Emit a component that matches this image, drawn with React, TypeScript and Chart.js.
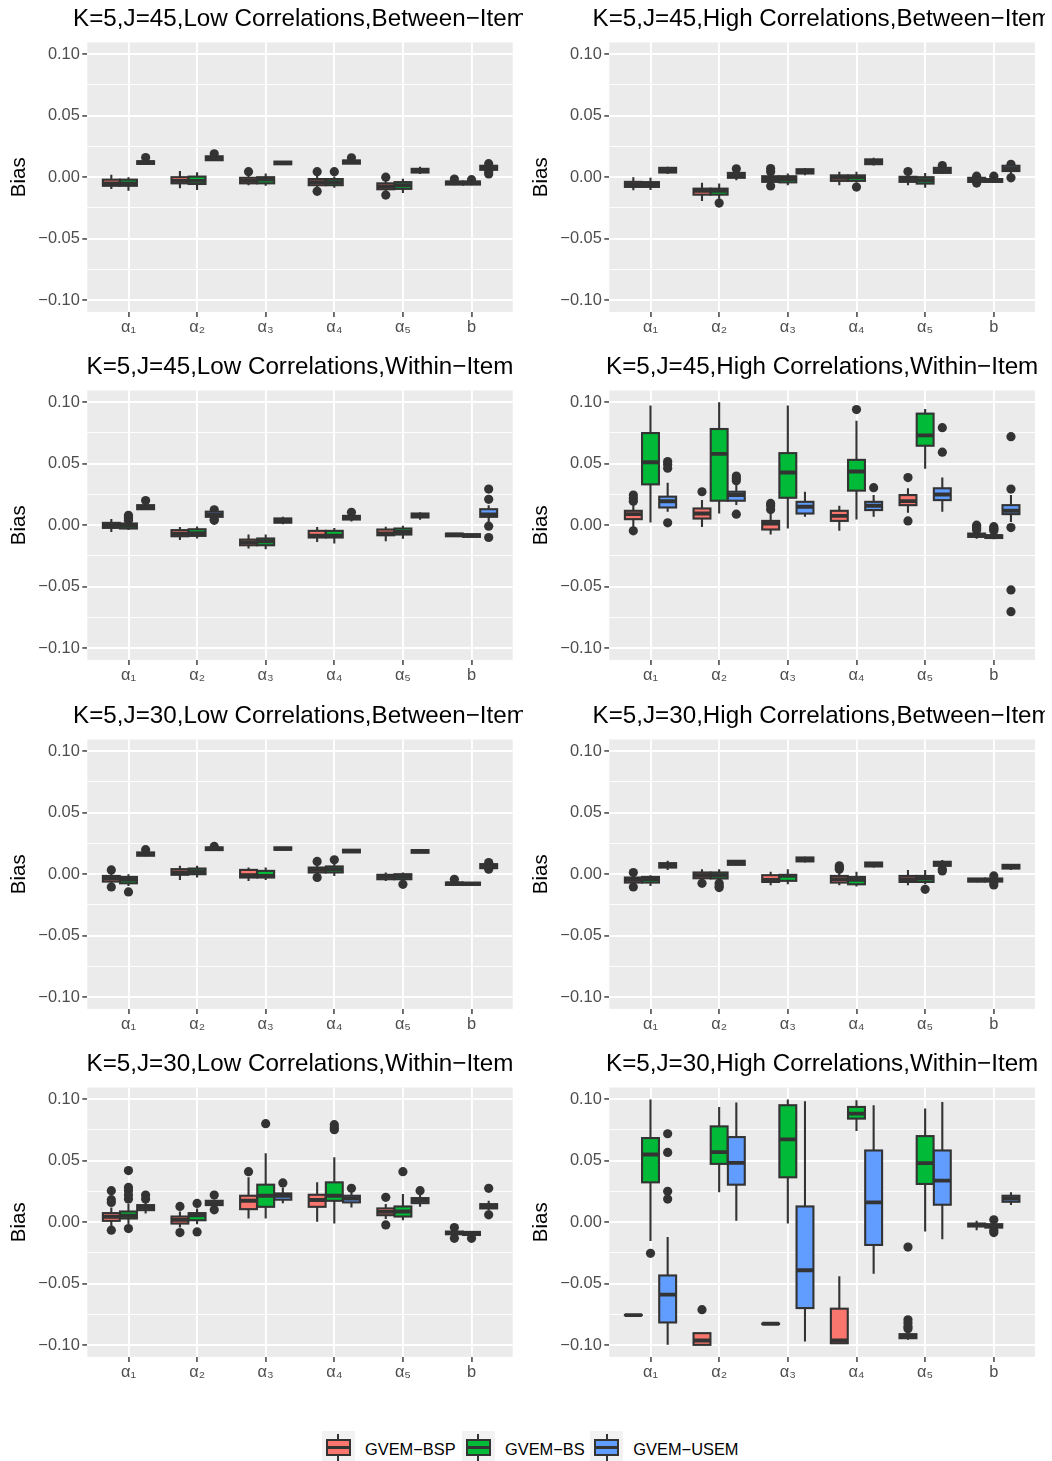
import React, { useEffect, useRef } from "react";
import { Chart, registerables } from "chart.js";

Chart.register(...registerables);

const FONT = "'Liberation Sans', Arial, Helvetica, sans-serif";

const CATEGORIES = ["α₁", "α₂", "α₃", "α₄", "α₅", "b"];
const Y_MAJOR_TICKS = [-0.1, -0.05, 0, 0.05, 0.1];
const Y_MAJOR_LABELS = ["−0.10", "−0.05", "0.00", "0.05", "0.10"];
const Y_MINOR_TICKS = [-0.075, -0.025, 0.025, 0.075];
const Y_MIN = -0.1095;
const Y_MAX = 0.1095;
const METHODS = ["GVEM−BSP", "GVEM−BS", "GVEM−USEM"];
const METHOD_COLORS = ["#F8766D", "#00BA38", "#619CFF"];
const DODGE = [-0.25, 0, 0.25];

const TITLES = [
  "K=5,J=45,Low Correlations,Between−Item",
  "K=5,J=45,High Correlations,Between−Item",
  "K=5,J=45,Low Correlations,Within−Item",
  "K=5,J=45,High Correlations,Within−Item",
  "K=5,J=30,Low Correlations,Between−Item",
  "K=5,J=30,High Correlations,Between−Item",
  "K=5,J=30,Low Correlations,Within−Item",
  "K=5,J=30,High Correlations,Within−Item",
];

// Each row: [lower whisker, Q1, median, Q3, upper whisker] for α1..α5, b
// Panel 1: J=45, Low, Between
const P1_BSP = [[-0.0095, -0.007, -0.005, -0.002, 0.002], [-0.009, -0.005, -0.003, 0.0, 0.005], [-0.0065, -0.005, -0.003, -0.0005, 0.002], [-0.0085, -0.0065, -0.004, -0.0015, 0.001], [-0.012, -0.0098, -0.0075, -0.005, -0.0025], [-0.0065, -0.006, -0.0045, -0.0035, -0.0025]];
const P1_BS = [[-0.011, -0.007, -0.005, -0.002, 0.0], [-0.0105, -0.0055, -0.003, 0.0005, 0.004], [-0.007, -0.005, -0.002, 0.0, 0.003], [-0.0085, -0.0065, -0.004, -0.0015, 0.0005], [-0.0128, -0.0095, -0.0065, -0.004, -0.0013], [-0.0065, -0.006, -0.0045, -0.0035, -0.0025]];
const P1_USEM = [[0.0105, 0.0108, 0.012, 0.013, 0.0145], [0.0135, 0.0138, 0.015, 0.017, 0.0175], [0.0103, 0.0105, 0.0115, 0.0127, 0.013], [0.0108, 0.011, 0.0125, 0.0136, 0.014], [0.0025, 0.0038, 0.0055, 0.0068, 0.0085], [0.004, 0.006, 0.0078, 0.0093, 0.0105]];
const P1_BSP_OUT = [[], [], [0.0045], [0.0045, -0.0115], [0.0, -0.0145], [-0.0015]];
const P1_BS_OUT = [[], [], [], [0.0045], [], [-0.002]];
const P1_USEM_OUT = [[0.016], [0.019], [], [0.0158], [], [0.011, 0.0027, 0.0045]];

// Panel 2: J=45, High, Between
const P2_BSP = [[-0.0107, -0.0079, -0.006, -0.0038, 0.0], [-0.0194, -0.0142, -0.011, -0.0093, -0.0046], [-0.0065, -0.0038, -0.0015, 0.0008, 0.003], [-0.0065, -0.003, -0.0005, 0.0015, 0.0045], [-0.0065, -0.0038, -0.0015, 0.0003, 0.003], [-0.0045, -0.0038, -0.0025, -0.0005, 0.0]];
const P2_BS = [[-0.0105, -0.0079, -0.006, -0.004, -0.0005], [-0.0185, -0.0142, -0.011, -0.0093, -0.0052], [-0.0065, -0.0042, -0.0015, 0.0008, 0.003], [-0.0045, -0.003, 0.0, 0.0015, 0.0045], [-0.0085, -0.0052, -0.0025, 0.0, 0.0035], [-0.0045, -0.0038, -0.003, -0.0015, -0.0005]];
const P2_USEM = [[0.0025, 0.0038, 0.0055, 0.0076, 0.0085], [-0.0025, -0.0005, 0.0015, 0.0035, 0.0055], [0.0015, 0.003, 0.0045, 0.0065, 0.0075], [0.0095, 0.0106, 0.0125, 0.0145, 0.0158], [0.0025, 0.0035, 0.0055, 0.0076, 0.0085], [0.002, 0.005, 0.007, 0.0093, 0.0105]];
const P2_BSP_OUT = [[], [], [0.007, 0.0044, -0.0071], [], [0.0046], [0.0008, -0.0048]];
const P2_BS_OUT = [[], [-0.021], [], [-0.008], [], [0.0008]];
const P2_USEM_OUT = [[], [0.0068], [], [], [0.0095], [0.0105, -0.0005]];

// Panel 3: J=45, Low, Within
const P3_BSP = [[-0.0055, -0.0022, 0.0, 0.0019, 0.005], [-0.012, -0.009, -0.007, -0.004, -0.0014], [-0.019, -0.0163, -0.014, -0.0117, -0.0076], [-0.0136, -0.01, -0.0085, -0.0046, -0.0014], [-0.013, -0.0082, -0.0068, -0.0035, -0.0012], [-0.0092, -0.009, -0.0078, -0.0068, -0.0065]];
const P3_BS = [[-0.004, -0.0027, -0.0005, 0.0014, 0.0035], [-0.0108, -0.0087, -0.0065, -0.0033, -0.001], [-0.0195, -0.0163, -0.013, -0.0108, -0.0076], [-0.0148, -0.01, -0.0085, -0.0046, -0.0022], [-0.011, -0.0076, -0.0055, -0.0027, -0.0005], [-0.0098, -0.0095, -0.0083, -0.0073, -0.007]];
const P3_USEM = [[0.0125, 0.013, 0.0148, 0.0163, 0.0175], [0.0065, 0.0068, 0.0085, 0.011, 0.0118], [0.0008, 0.002, 0.0038, 0.0055, 0.0068], [0.003, 0.0046, 0.006, 0.0076, 0.0085], [0.0045, 0.0063, 0.0078, 0.0095, 0.0105], [0.0027, 0.0068, 0.0088, 0.013, 0.0163]];
const P3_BSP_OUT = [[], [], [], [], [], []];
const P3_BS_OUT = [[0.008, 0.0065, 0.005, 0.004], [], [], [], [], []];
const P3_USEM_OUT = [[0.02], [0.0125, 0.004, 0.0048], [], [0.0105], [], [0.0294, 0.021, -0.0008, -0.01]];

// Panel 4: J=45, High, Within
const P4_BSP = [[-0.0014, 0.0049, 0.009, 0.0117, 0.0169], [-0.0014, 0.0054, 0.0095, 0.0136, 0.0204], [-0.0076, -0.0035, 0.0014, 0.0035, 0.011], [-0.0046, 0.0035, 0.0076, 0.0117, 0.0158], [0.0101, 0.0163, 0.0196, 0.0245, 0.03], [-0.011, -0.0095, -0.0082, -0.0068, -0.0065]];
const P4_BS = [[0.0022, 0.0332, 0.0512, 0.0749, 0.0973], [0.0095, 0.0199, 0.058, 0.0782, 0.1], [-0.0027, 0.0223, 0.0428, 0.0586, 0.0973], [0.0046, 0.0281, 0.0436, 0.0531, 0.085], [0.0458, 0.0646, 0.073, 0.0907, 0.0945], [-0.0115, -0.0104, -0.009, -0.0082, -0.0078]];
const P4_USEM = [[0.0109, 0.0144, 0.0195, 0.0232, 0.0346], [0.0165, 0.0199, 0.0245, 0.0272, 0.0327], [0.0068, 0.0095, 0.015, 0.019, 0.0272], [0.0068, 0.0123, 0.0158, 0.019, 0.0245], [0.0109, 0.0204, 0.025, 0.03, 0.0387], [0.0027, 0.009, 0.0117, 0.0163, 0.0245]];
const P4_BSP_OUT = [[0.0245, 0.022, 0.0195, -0.0046], [0.0272], [0.0177, 0.0158, 0.0128], [], [0.0387, 0.0035], [0.0, -0.0014, -0.0027, -0.004]];
const P4_BS_OUT = [[], [], [], [0.094], [], [-0.0012, -0.0025, -0.0035, -0.0045]];
const P4_USEM_OUT = [[0.0518, 0.0496, 0.0463, 0.0019], [0.04, 0.038, 0.0362, 0.009], [], [0.0305], [0.0793, 0.0594], [0.072, 0.0294, -0.0019, -0.0526, -0.0703]];

// Panel 5: J=30, Low, Between
const P5_BSP = [[-0.0082, -0.006, -0.0035, -0.0014, 0.0014], [-0.0047, -0.0005, 0.0014, 0.0041, 0.0068], [-0.0055, -0.0027, -0.0008, 0.0035, 0.0054], [-0.0008, 0.0014, 0.0035, 0.0054, 0.0082], [-0.0055, -0.0041, -0.0022, -0.0005, 0.0014], [-0.009, -0.0087, -0.0076, -0.0068, -0.006]];
const P5_BS = [[-0.0095, -0.0074, -0.0046, -0.0022, 0.0], [-0.0027, 0.0, 0.0022, 0.0046, 0.0068], [-0.0047, -0.0027, -0.0014, 0.0027, 0.0054], [-0.0014, 0.0014, 0.004, 0.0063, 0.0082], [-0.0055, -0.0041, -0.0019, 0.0, 0.0014], [-0.009, -0.0087, -0.0079, -0.0068, -0.0065]];
const P5_USEM = [[0.0145, 0.015, 0.0163, 0.0177, 0.0185], [0.0192, 0.0196, 0.0207, 0.0218, 0.0222], [0.0196, 0.0199, 0.0207, 0.0218, 0.022], [0.0175, 0.0177, 0.0188, 0.0199, 0.0202], [0.0172, 0.0174, 0.0188, 0.0196, 0.0199], [0.0045, 0.0049, 0.0065, 0.0082, 0.0088]];
const P5_BSP_OUT = [[0.0035, -0.0104], [], [], [0.0104, -0.0027], [], [-0.0041]];
const P5_BS_OUT = [[-0.0144], [], [], [0.0117], [-0.0082], []];
const P5_USEM_OUT = [[0.0199], [0.0226], [], [], [], [0.0095, 0.0041]];

// Panel 6: J=30, High, Between
const P6_BSP = [[-0.0082, -0.0068, -0.0046, -0.0027, 0.0], [-0.0055, -0.0033, -0.0008, 0.0014, 0.0041], [-0.009, -0.0063, -0.0046, -0.0008, 0.002], [-0.009, -0.0068, -0.0041, -0.0014, 0.0014], [-0.009, -0.0063, -0.0041, -0.0014, 0.0035], [-0.0065, -0.006, -0.0049, -0.0035, -0.003]];
const P6_BS = [[-0.0095, -0.0068, -0.0041, -0.0022, -0.0008], [-0.0055, -0.0035, -0.0008, 0.0014, 0.0041], [-0.0082, -0.0054, -0.0014, -0.0005, 0.0041], [-0.0101, -0.0082, -0.0046, -0.0022, 0.0019], [-0.0082, -0.0063, -0.0035, -0.0014, 0.0035], [-0.0065, -0.006, -0.0046, -0.0035, -0.003]];
const P6_USEM = [[0.0035, 0.0054, 0.0074, 0.009, 0.0109], [0.007, 0.0076, 0.0095, 0.0109, 0.0115], [0.0095, 0.0104, 0.012, 0.0136, 0.0142], [0.0055, 0.0063, 0.0079, 0.0095, 0.01], [0.0055, 0.0068, 0.0085, 0.0101, 0.0115], [0.0035, 0.0046, 0.006, 0.0076, 0.0082]];
const P6_BSP_OUT = [[0.0014, -0.0104], [-0.0074], [], [0.0068, 0.0055, 0.0041], [], []];
const P6_BS_OUT = [[], [-0.0074, -0.0095, -0.0109], [], [], [-0.0123], [-0.0014, -0.0068, -0.0087]];
const P6_USEM_OUT = [[], [], [], [], [0.0041, 0.0027], []];

// Panel 7: J=30, Low, Within
const P7_BSP = [[-0.0038, 0.0011, 0.0044, 0.0074, 0.012], [-0.0044, -0.0011, 0.0019, 0.0046, 0.0087], [0.003, 0.0106, 0.0174, 0.0215, 0.0365], [0.0003, 0.0125, 0.018, 0.0223, 0.0324], [0.0025, 0.0057, 0.0084, 0.0112, 0.0147], [-0.0105, -0.0098, -0.0087, -0.0076, -0.007]];
const P7_BS = [[-0.0016, 0.003, 0.0052, 0.0087, 0.0147], [-0.0016, 0.0016, 0.0057, 0.0074, 0.0112], [0.003, 0.0125, 0.0215, 0.0305, 0.0561], [-0.0011, 0.0174, 0.0215, 0.0324, 0.0529], [0.0016, 0.0046, 0.0087, 0.0128, 0.0229], [-0.011, -0.0104, -0.009, -0.0079, -0.0075]];
const P7_USEM = [[0.0071, 0.0098, 0.012, 0.0139, 0.0175], [0.0125, 0.0139, 0.0155, 0.0174, 0.0185], [0.0155, 0.0183, 0.0215, 0.0234, 0.0283], [0.012, 0.0161, 0.0193, 0.0215, 0.0243], [0.0125, 0.0155, 0.018, 0.0196, 0.0229], [0.0093, 0.0112, 0.0128, 0.0147, 0.0174]];
const P7_BSP_OUT = [[0.0256, 0.0183, 0.0161, -0.0065], [0.0128, -0.0084], [0.0411], [], [0.0202, -0.0022], [-0.0044, -0.0131]];
const P7_BS_OUT = [[0.042, 0.0283, 0.0256, 0.0221, 0.0188, -0.0052], [0.0153, -0.0079], [0.0801], [0.0793, 0.0768, 0.0752], [0.0411], [-0.0131]];
const P7_USEM_OUT = [[0.0221, 0.0188], [0.0221, 0.0101], [0.0319], [0.0275], [0.0256], [0.0275, 0.006]];

// Panel 8: J=30, High, Within
const P8_BSP = [[-0.0756, -0.0756, -0.0755, -0.0754, -0.0754], [-0.0997, -0.0997, -0.0962, -0.0902, -0.0902], [-0.0827, -0.0827, -0.0826, -0.0825, -0.0825], [-0.0984, -0.0984, -0.0962, -0.0703, -0.0439], [-0.0955, -0.0943, -0.0924, -0.091, -0.089], [-0.0065, -0.0035, -0.0022, -0.0011, 0.0011]];
const P8_BS = [[-0.0153, 0.0324, 0.055, 0.0684, 0.0997], [0.0243, 0.0474, 0.057, 0.0779, 0.0937], [-0.0011, 0.0365, 0.0673, 0.0951, 0.0997], [0.0741, 0.0842, 0.0883, 0.0937, 0.0992], [-0.0076, 0.0311, 0.048, 0.07, 0.0924], [-0.0055, -0.0044, -0.003, -0.0016, 0.0]];
const P8_USEM = [[-0.0997, -0.0815, -0.0589, -0.0433, -0.012], [0.0011, 0.0305, 0.0482, 0.0692, 0.0973], [-0.097, -0.0698, -0.039, 0.0128, 0.0984], [-0.042, -0.0185, 0.0161, 0.0583, 0.0951], [-0.0139, 0.0142, 0.0338, 0.0583, 0.0978], [0.0139, 0.0166, 0.0193, 0.0215, 0.0243]];
const P8_BSP_OUT = [[], [-0.0711], [], [], [-0.0793, -0.082, -0.0847, -0.0866, -0.0202], []];
const P8_BS_OUT = [[-0.0253], [], [], [], [], [0.0019, -0.0084, -0.0065]];
const P8_USEM_OUT = [[0.0719, 0.0567, 0.0251, 0.0188], [], [], [], [], []];

const PANEL_STATS = [
  [P1_BSP, P1_BS, P1_USEM], [P2_BSP, P2_BS, P2_USEM],
  [P3_BSP, P3_BS, P3_USEM], [P4_BSP, P4_BS, P4_USEM],
  [P5_BSP, P5_BS, P5_USEM], [P6_BSP, P6_BS, P6_USEM],
  [P7_BSP, P7_BS, P7_USEM], [P8_BSP, P8_BS, P8_USEM],
];
const PANEL_OUTLIERS = [
  [P1_BSP_OUT, P1_BS_OUT, P1_USEM_OUT], [P2_BSP_OUT, P2_BS_OUT, P2_USEM_OUT],
  [P3_BSP_OUT, P3_BS_OUT, P3_USEM_OUT], [P4_BSP_OUT, P4_BS_OUT, P4_USEM_OUT],
  [P5_BSP_OUT, P5_BS_OUT, P5_USEM_OUT], [P6_BSP_OUT, P6_BS_OUT, P6_USEM_OUT],
  [P7_BSP_OUT, P7_BS_OUT, P7_USEM_OUT], [P8_BSP_OUT, P8_BS_OUT, P8_USEM_OUT],
];

// layout
const CELL_W = 523;
const CELL_H = 348;
const COL_LEFT = [0, 522];
const ROW_TOP = [0, 348, 697, 1045];
const PLOT_LEFT = 87.3;
const PLOT_RIGHT = [512.7, 513];
const PLOT_TOP = 42.5;
const PLOT_H = 269.4;
const BOX_HALF = 0.123;
const LINE_W = 2.1;
const MEDIAN_W = 3.9;
const OUTLINE = "#333333";

const isMajor = (v: number) => Y_MAJOR_TICKS.some((m) => Math.abs(m - v) < 1e-9);

function Panel({ index }: { index: number }) {
  const ref = useRef<HTMLCanvasElement>(null);
  const col = index % 2;
  const row = Math.floor(index / 2);
  useEffect(() => {
    const canvas = ref.current as HTMLCanvasElement;
    const stats = PANEL_STATS[index];
    const outliers = PANEL_OUTLIERS[index];
    const title = TITLES[index];

    const bgPlugin = {
      id: "panelBg",
      beforeDraw(chart: any) {
        const { ctx, chartArea: a } = chart;
        ctx.save();
        ctx.fillStyle = "#EBEBEB";
        ctx.fillRect(a.left, a.top, a.right - a.left, a.bottom - a.top);
        ctx.restore();
      },
    };
    const titlePlugin = {
      id: "panelTitle",
      afterDraw(chart: any) {
        const { ctx, chartArea: a } = chart;
        ctx.save();
        ctx.font = `24.2px ${FONT}`;
        ctx.fillStyle = "#000000";
        ctx.textAlign = "center";
        ctx.textBaseline = "middle";
        ctx.fillText(title, (a.left + a.right) / 2, 19.3);
        ctx.restore();
      },
    };
    const boxPlugin = {
      id: "boxes",
      afterDatasetsDraw(chart: any) {
        const { ctx, chartArea: a } = chart;
        const xs = chart.scales.x;
        const ys = chart.scales.y;
        ctx.save();
        ctx.beginPath();
        ctx.rect(a.left, a.top, a.right - a.left, a.bottom - a.top);
        ctx.clip();
        stats.forEach((group: number[][], gi: number) => {
          group.forEach((s: number[], ci: number) => {
            const [lo, q1, med, q3, hi] = s;
            const xc = ci + DODGE[gi];
            const px = xs.getPixelForValue(xc);
            const xl = xs.getPixelForValue(xc - BOX_HALF);
            const xr = xs.getPixelForValue(xc + BOX_HALF);
            const yLo = ys.getPixelForValue(lo);
            const yQ1 = ys.getPixelForValue(q1);
            const yMed = ys.getPixelForValue(med);
            const yQ3 = ys.getPixelForValue(q3);
            const yHi = ys.getPixelForValue(hi);
            ctx.strokeStyle = OUTLINE;
            ctx.lineWidth = LINE_W;
            ctx.beginPath();
            ctx.moveTo(px, yQ3);
            ctx.lineTo(px, yHi);
            ctx.moveTo(px, yQ1);
            ctx.lineTo(px, yLo);
            ctx.stroke();
            ctx.fillStyle = METHOD_COLORS[gi];
            ctx.fillRect(xl, yQ3, xr - xl, yQ1 - yQ3);
            ctx.strokeRect(xl, yQ3, xr - xl, yQ1 - yQ3);
            ctx.lineWidth = MEDIAN_W;
            ctx.beginPath();
            ctx.moveTo(xl, yMed);
            ctx.lineTo(xr, yMed);
            ctx.stroke();
          });
        });
        ctx.restore();
      },
    };

    const chart = new Chart(canvas, {
      type: "scatter",
      data: {
        datasets: METHODS.map((m, gi) => ({
          label: m,
          data: outliers[gi].flatMap((vals: number[], ci: number) =>
            vals.map((v) => ({ x: ci + DODGE[gi], y: v }))
          ),
          pointRadius: 4.6,
          pointHoverRadius: 4.6,
          pointBackgroundColor: OUTLINE,
          pointBorderWidth: 0,
          backgroundColor: OUTLINE,
          borderColor: OUTLINE,
        })),
      },
      options: {
        animation: false,
        responsive: false,
        maintainAspectRatio: false,
        events: [],
        layout: { padding: { top: PLOT_TOP, left: 0, bottom: 0, right: CELL_W - PLOT_RIGHT[col] } },
        plugins: { legend: { display: false }, tooltip: { enabled: false }, title: { display: false } },
        scales: {
          x: {
            type: "linear",
            min: -0.6,
            max: 5.6,
            afterBuildTicks: (s: any) => {
              s.ticks = CATEGORIES.map((_, i) => ({ value: i }));
            },
            afterFit: (s: any) => {
              s.height = CELL_H - PLOT_TOP - PLOT_H;
            },
            ticks: {
              callback: (v: any) => CATEGORIES[Math.round(Number(v))] ?? "",
              autoSkip: false,
              maxRotation: 0,
              minRotation: 0,
              color: "#4D4D4D",
              font: { family: FONT, size: 16.4 },
              padding: 1,
            },
            grid: { color: "#FFFFFF", lineWidth: 1.9, tickColor: OUTLINE, tickLength: 5, tickWidth: 1.4, drawTicks: true },
            border: { display: false },
          },
          y: {
            type: "linear",
            min: Y_MIN,
            max: Y_MAX,
            afterBuildTicks: (s: any) => {
              s.ticks = [...Y_MAJOR_TICKS, ...Y_MINOR_TICKS].sort((a, b) => a - b).map((v) => ({ value: v }));
            },
            afterFit: (s: any) => {
              s.width = PLOT_LEFT;
            },
            ticks: {
              callback: (v: any) => {
                const i = Y_MAJOR_TICKS.findIndex((m) => Math.abs(m - Number(v)) < 1e-9);
                return i >= 0 ? Y_MAJOR_LABELS[i] : "";
              },
              autoSkip: false,
              color: "#4D4D4D",
              font: { family: FONT, size: 16.4 },
              padding: 2.5,
            },
            grid: {
              color: "#FFFFFF",
              lineWidth: (c: any) => (isMajor(c.tick.value) ? 1.9 : 0.95),
              tickColor: (c: any) => (isMajor(c.tick.value) ? OUTLINE : "rgba(0,0,0,0)"),
              tickLength: 5,
              tickWidth: 1.4,
            },
            border: { display: false },
            title: {
              display: true,
              text: "Bias",
              color: "#000000",
              font: { family: FONT, size: 20.5 },
              padding: { top: 6.7, bottom: 0 },
            },
          },
        },
      },
      plugins: [bgPlugin, boxPlugin, titlePlugin],
    } as any);
    return () => chart.destroy();
  }, [index]);
  return (
    <canvas
      ref={ref}
      width={CELL_W}
      height={CELL_H}
      style={{ position: "absolute", left: COL_LEFT[col], top: ROW_TOP[row], width: CELL_W, height: CELL_H }}
    />
  );
}

const LEGEND_KEY_LEFT = [321.7, 461.7, 590];
const LEGEND_TOP = 1430.7;
const KEY = 33.3;

function LegendKey({ color }: { color: string }) {
  const bw = KEY * 0.75;
  const bx = KEY * 0.125;
  return (
    <div style={{ position: "absolute", left: 0, top: 0, width: KEY, height: KEY, background: "#F2F2F2" }}>
      <div style={{ position: "absolute", left: KEY / 2 - 1, top: KEY * 0.1, width: 2, height: KEY * 0.15, background: OUTLINE }} />
      <div style={{ position: "absolute", left: KEY / 2 - 1, top: KEY * 0.75, width: 2, height: KEY * 0.15, background: OUTLINE }} />
      <div
        style={{
          position: "absolute", left: bx, top: KEY * 0.25, width: bw, height: KEY * 0.5,
          background: color, border: `2px solid ${OUTLINE}`, boxSizing: "border-box",
        }}
      />
      <div style={{ position: "absolute", left: bx, top: KEY / 2 - 1.8, width: bw, height: 3.6, background: OUTLINE }} />
    </div>
  );
}

export default function App() {
  return (
    <div style={{ position: "absolute", left: 0, top: 0, width: 1052, height: 1461, background: "#FFFFFF", overflow: "hidden" }}>
      {TITLES.map((_, i) => (
        <Panel key={i} index={i} />
      ))}
      {METHODS.map((m, i) => (
        <div key={m} style={{ position: "absolute", left: LEGEND_KEY_LEFT[i], top: LEGEND_TOP, height: KEY, width: 160 }}>
          <LegendKey color={METHOD_COLORS[i]} />
          <div
            style={{
              position: "absolute", left: 43.3, top: 8, fontFamily: FONT, fontSize: 16.4,
              lineHeight: "20px", color: "#000000", whiteSpace: "nowrap",
            }}
          >
            {m}
          </div>
        </div>
      ))}
    </div>
  );
}
